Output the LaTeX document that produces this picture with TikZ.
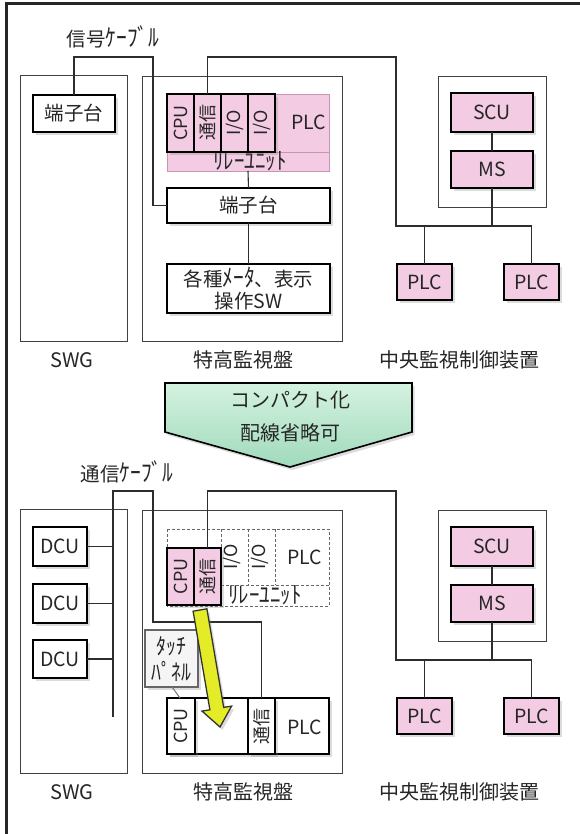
\documentclass[tikz,border=0pt]{standalone}
\usepackage{fontspec}
\usepackage{graphicx}
\setmainfont{Noto Sans CJK JP}
\usetikzlibrary{shadows}
\definecolor{pinkf}{RGB}{243,204,228}
\definecolor{pinkd}{RGB}{200,150,180}
\definecolor{lnc}{RGB}{45,45,45}
\definecolor{yel}{RGB}{228,236,40}
\definecolor{mintT}{RGB}{212,242,224}
\definecolor{mintB}{RGB}{160,218,188}
\newcommand\fsz[2]{\fontsize{#1pt}{#2pt}\selectfont}
\newcommand\hk[1]{\scalebox{1.1}[1.25]{#1}}
\begin{document}
\begin{tikzpicture}[x=1pt,y=-1pt,
  every node/.style={inner sep=0pt,outer sep=0pt,text=black!85},
  cont/.style={draw=black!75,line width=0.9pt},
  ln/.style={draw=lnc,line width=1.1pt},
  shd/.style={drop shadow={shadow xshift=2.5pt,shadow yshift=-3pt,opacity=0.28}},
  tbox/.style={draw=black,line width=2.2pt,fill=white,shd,font=\fsz{19.5}{24}},
  pbox/.style={tbox,fill=pinkf},
  modp/.style={draw=black,line width=2pt,fill=pinkf,shd,font=\fsz{18}{20}},
  modw/.style={draw=black,line width=2pt,fill=white,shd,font=\fsz{18}{20}},
  parea/.style={draw=pinkd,line width=0.6pt,fill=pinkf},
  dsh/.style={draw=black!60,line width=0.7pt,dashed,dash pattern=on 3pt off 2pt},
  lbl/.style={font=\fsz{20}{24}},
  cab/.style={font=\fsz{19.5}{22}}]
\useasboundingbox (0,0) rectangle (580,834);
% outer frame
\draw[line width=3pt,black!85] (6,834) -- (6,4) -- (580,4);

% ================= TOP =================
\node[cont,minimum width=107pt,minimum height=266pt] (swgA) at (73.5,208) {};
\node[cont,minimum width=200pt,minimum height=265pt] (tkA) at (242,208.5) {};
\node[cont,minimum width=108pt,minimum height=131pt] (cenA) at (492,141.5) {};

\node[cab] (cabA) at (113,37) {信号\hk{ｹｰﾌﾞﾙ}};
\node[tbox,minimum width=82pt,minimum height=37pt] (tanA) at (74,113.5) {端子台};

\node[parea,minimum width=162pt,minimum height=58pt] (plcA) at (248,123) {};
\node[parea,minimum width=162pt,minimum height=19pt] (relA) at (248,161.5) {};
\node[font=\fsz{19.5}{22}] (plcAt) at (309,122) {PLC};
\node[font=\fsz{19}{22}] (relAt) at (250,161) {\hk{ﾘﾚｰﾕﾆｯﾄ}};
\node[modp,minimum width=27pt,minimum height=58pt] (cpuA) at (180.5,123) {\rotatebox{90}{CPU}};
\node[modp,minimum width=27pt,minimum height=58pt] (tsuA) at (207.5,123) {\rotatebox{90}{通信}};
\node[modp,minimum width=27pt,minimum height=58pt] (ioA1) at (234.5,123) {\rotatebox{90}{I/O}};
\node[modp,minimum width=27pt,minimum height=58pt] (ioA2) at (261.5,123) {\rotatebox{90}{I/O}};

\node[tbox,minimum width=163pt,minimum height=35pt] (tanB) at (248.5,205.5) {端子台};
\node[tbox,minimum width=163pt,minimum height=49pt,align=center,font=\fsz{19.5}{22}] (metA) at (248.5,288.5) {各種\hk{ﾒｰﾀ}、表示\\操作SW};

\node[pbox,minimum width=82pt,minimum height=39pt] (scuA) at (492,112.5) {SCU};
\node[pbox,minimum width=82pt,minimum height=37pt] (msA) at (492,169.5) {MS};
\node[pbox,minimum width=55pt,minimum height=36pt] (plcLA) at (424.5,282) {PLC};
\node[pbox,minimum width=55pt,minimum height=36pt] (plcRA) at (531.5,282) {PLC};

\node[lbl] (swgAt) at (72,360) {SWG};
\node[lbl] (tkAt) at (243,360) {特高監視盤};
\node[lbl] (cenAt) at (459,360) {中央監視制御装置};

\coordinate (jA) at (396,226);
\draw[ln] (tanA.north) |- (153,57) |- (tanB.west);
\draw[ln] (tsuA.north) |- (396,57) -- (jA) -| (plcRA.north);
\draw[ln] (msA.south) -- (msA.south |- jA);
\draw[ln] (plcLA.north) -- (plcLA.north |- jA);
\draw[ln] (scuA.south) -- (msA.north);
\draw[ln] (248,171) -- (tanB.north);
\draw[ln] (tanB.south) -- (metA.north);

% green arrow
\path[draw=black,line width=1.6pt,top color=mintT,bottom color=mintB,shd]
  (165,383) -- (412,383) -- (412,432) -- (290,467) -- (165,432) -- cycle;
\node[font=\fsz{20}{22}] (cmpT) at (290,400) {コンパクト化};
\node[font=\fsz{20}{22}] (cmpT2) at (290,433) {配線省略可};

% ================= BOTTOM =================
\node[cont,minimum width=107pt,minimum height=264pt] (swgB) at (73.5,641) {};
\node[cont,minimum width=200pt,minimum height=263pt] (tkB) at (242,641.5) {};
\node[cont,minimum width=108pt,minimum height=131pt] (cenB) at (492,575.5) {};

\node[cab] (cabB) at (127,472) {通信\hk{ｹｰﾌﾞﾙ}};

\node[tbox,minimum width=54pt,minimum height=39pt] (dcu1) at (60,546.5) {DCU};
\node[tbox,minimum width=54pt,minimum height=39pt] (dcu2) at (60,603.5) {DCU};
\node[tbox,minimum width=54pt,minimum height=38pt] (dcu3) at (60,659) {DCU};

% dashed PLC
\draw[dsh] (167,529) rectangle (329,606);
\draw[dsh] (221,585) -- (329,585);
\draw[dsh] (221,529) -- (221,585);
\draw[dsh] (248,529) -- (248,585);
\draw[dsh] (275,529) -- (275,585);
\node[font=\fsz{18}{20}] (ioB1) at (232,557) {\rotatebox{90}{I/O}};
\node[font=\fsz{18}{20}] (ioB2) at (260,557) {\rotatebox{90}{I/O}};
\node[font=\fsz{19.5}{22}] (plcBt) at (305,557) {PLC};
\node[font=\fsz{19}{22}] (relBt) at (265,595) {\hk{ﾘﾚｰﾕﾆｯﾄ}};
\node[modp,minimum width=27pt,minimum height=57pt] (cpuB) at (180.5,576.5) {\rotatebox{90}{CPU}};
\node[modp,minimum width=27pt,minimum height=57pt] (tsuB) at (207.5,576.5) {\rotatebox{90}{通信}};

% touch panel
\node[draw=black!60,line width=1.3pt,fill=black!4,shd,minimum width=53pt,minimum height=57pt,align=center,font=\fsz{18}{26}] (tp) at (171.5,658.5) {\hk{ﾀｯﾁ}\\\hk{ﾊﾟﾈﾙ}};

% lower PLC
\node[draw=black,line width=1.8pt,fill=white,shd,minimum width=162pt,minimum height=56pt] (plcL) at (248,726) {};
\node[modw,minimum width=28pt,minimum height=56pt] (cpuL) at (181,726) {\rotatebox{90}{CPU}};
\node[modw,minimum width=27pt,minimum height=56pt] (tsuL) at (261.5,726) {\rotatebox{90}{通信}};
\node[font=\fsz{19.5}{22}] (plcLt) at (305,727) {PLC};
\draw[draw=black!55,line width=1pt] (172,687) -- (180,698);

\node[pbox,minimum width=82pt,minimum height=39pt] (scuB) at (492,546.5) {SCU};
\node[pbox,minimum width=82pt,minimum height=37pt] (msB) at (492,603.5) {MS};
\node[pbox,minimum width=55pt,minimum height=36pt] (plcLB) at (424.5,716) {PLC};
\node[pbox,minimum width=55pt,minimum height=36pt] (plcRB) at (531.5,716) {PLC};

\node[lbl] (swgBt) at (72,792) {SWG};
\node[lbl] (tkBt) at (243,792) {特高監視盤};
\node[lbl] (cenBt) at (459,792) {中央監視制御装置};

\coordinate (jB) at (396,660);
\coordinate (busB) at (113,717);
\draw[ln] (busB) -- (113,491) -- (153,491) -- (153,622) -| (tsuL.north);
\draw[ln] (dcu1.east) -- (dcu1.east -| busB);
\draw[ln] (dcu2.east) -- (dcu2.east -| busB);
\draw[ln] (dcu3.east) -- (dcu3.east -| busB);
\draw[ln] (tsuB.north) |- (396,491) -- (jB) -| (plcRB.north);
\draw[ln] (msB.south) -- (msB.south |- jB);
\draw[ln] (plcLB.north) -- (plcLB.north |- jB);
\draw[ln] (scuB.south) -- (msB.north);

% yellow arrow
\path[draw=black!80,line width=1.3pt,fill=yel,shd]
  (206.9,608.8) -- (223.7,707.4) -- (231.6,706.1) -- (220,727) -- (202.0,711.1) -- (209.9,709.8) -- (193.1,611.2) -- cycle;
\end{tikzpicture}
\end{document}
